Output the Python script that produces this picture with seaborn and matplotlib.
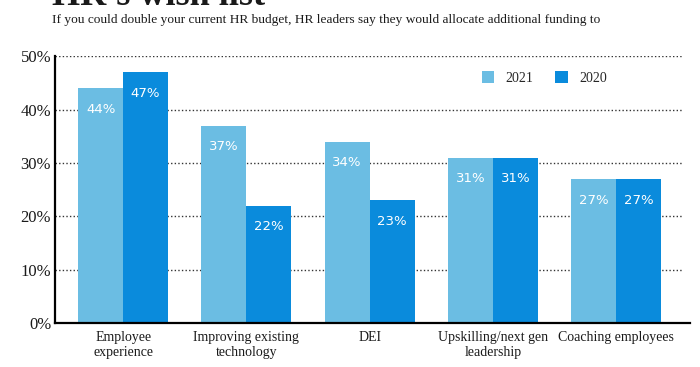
import matplotlib
matplotlib.use("Agg")
import matplotlib.pyplot as plt
import seaborn as sns
import pandas as pd

## Data
categories = ["Employee\nexperience", "Improving existing\ntechnology", "DEI",
              "Upskilling/next gen\nleadership", "Coaching employees"]
years = ["2021", "2020"]
values_2021 = [44, 37, 34, 31, 27]
values_2020 = [47, 22, 23, 31, 27]
y_ticks = [0, 10, 20, 30, 40, 50]

light_blue = "#6BBDE3"
blue = "#0A8BDC"
text_dark = "#1A1A1A"

df = pd.DataFrame({
    "category": categories * 2,
    "year": [years[0]] * len(categories) + [years[1]] * len(categories),
    "value": values_2021 + values_2020,
})

## Setup
sns.set_theme(style="white")
plt.rcParams["font.family"] = ["Liberation Serif", "DejaVu Serif"]
fig = plt.figure(figsize=(7, 3.67), dpi=100)
ax = fig.add_axes([0.079, 0.12, 0.907, 0.727])

## Plot
sns.barplot(data=df, x="category", y="value", hue="year", hue_order=years,
            palette=[light_blue, blue], width=0.73, gap=0, saturation=1,
            linewidth=0, edgecolor="none", ax=ax, zorder=3)

## Format
ax.set_ylim(0, 50)
ax.set_xlim(-0.55, 4.6)
ax.set_yticks(y_ticks)
ax.set_yticklabels([f"{t}%" for t in y_ticks], fontsize=12, color=text_dark)
ax.tick_params(axis="x", labelsize=10, colors=text_dark, length=0, pad=6)
ax.tick_params(axis="y", length=0, pad=3)
ax.set_xlabel("")
ax.set_ylabel("")
for t in y_ticks[1:]:
    ax.axhline(t, xmax=0.989, color="#333333", lw=1, ls=(0, (1, 1.6)), zorder=1)
sns.despine(ax=ax, top=True, right=True)
for side in ["left", "bottom"]:
    ax.spines[side].set_color("black")
    ax.spines[side].set_linewidth(1.6)
    ax.spines[side].set_zorder(4)

## Bar labels
for container in ax.containers:
    for bar in container:
        h = bar.get_height()
        ax.text(bar.get_x() + bar.get_width() / 2, h - 4, f"{h:.0f}%",
                ha="center", va="center", color="white", fontsize=9.5,
                family="DejaVu Sans", zorder=5)

## Legend
ax.legend(loc="center", bbox_to_anchor=(0.77, 0.918), ncol=2, frameon=False,
          handlelength=0.9, handleheight=0.9, columnspacing=1.6, handletextpad=0.8,
          fontsize=10)

## Titles
fig.text(0.074, 0.986, "HR's wish list", fontsize=26, fontweight="bold",
         va="baseline", ha="left", color=text_dark)
fig.text(0.074, 0.945, "If you could double your current HR budget, HR leaders say they would allocate additional funding to",
         fontsize=9.65, va="center", ha="left", color=text_dark)

fig.savefig("out.png", dpi=100)
